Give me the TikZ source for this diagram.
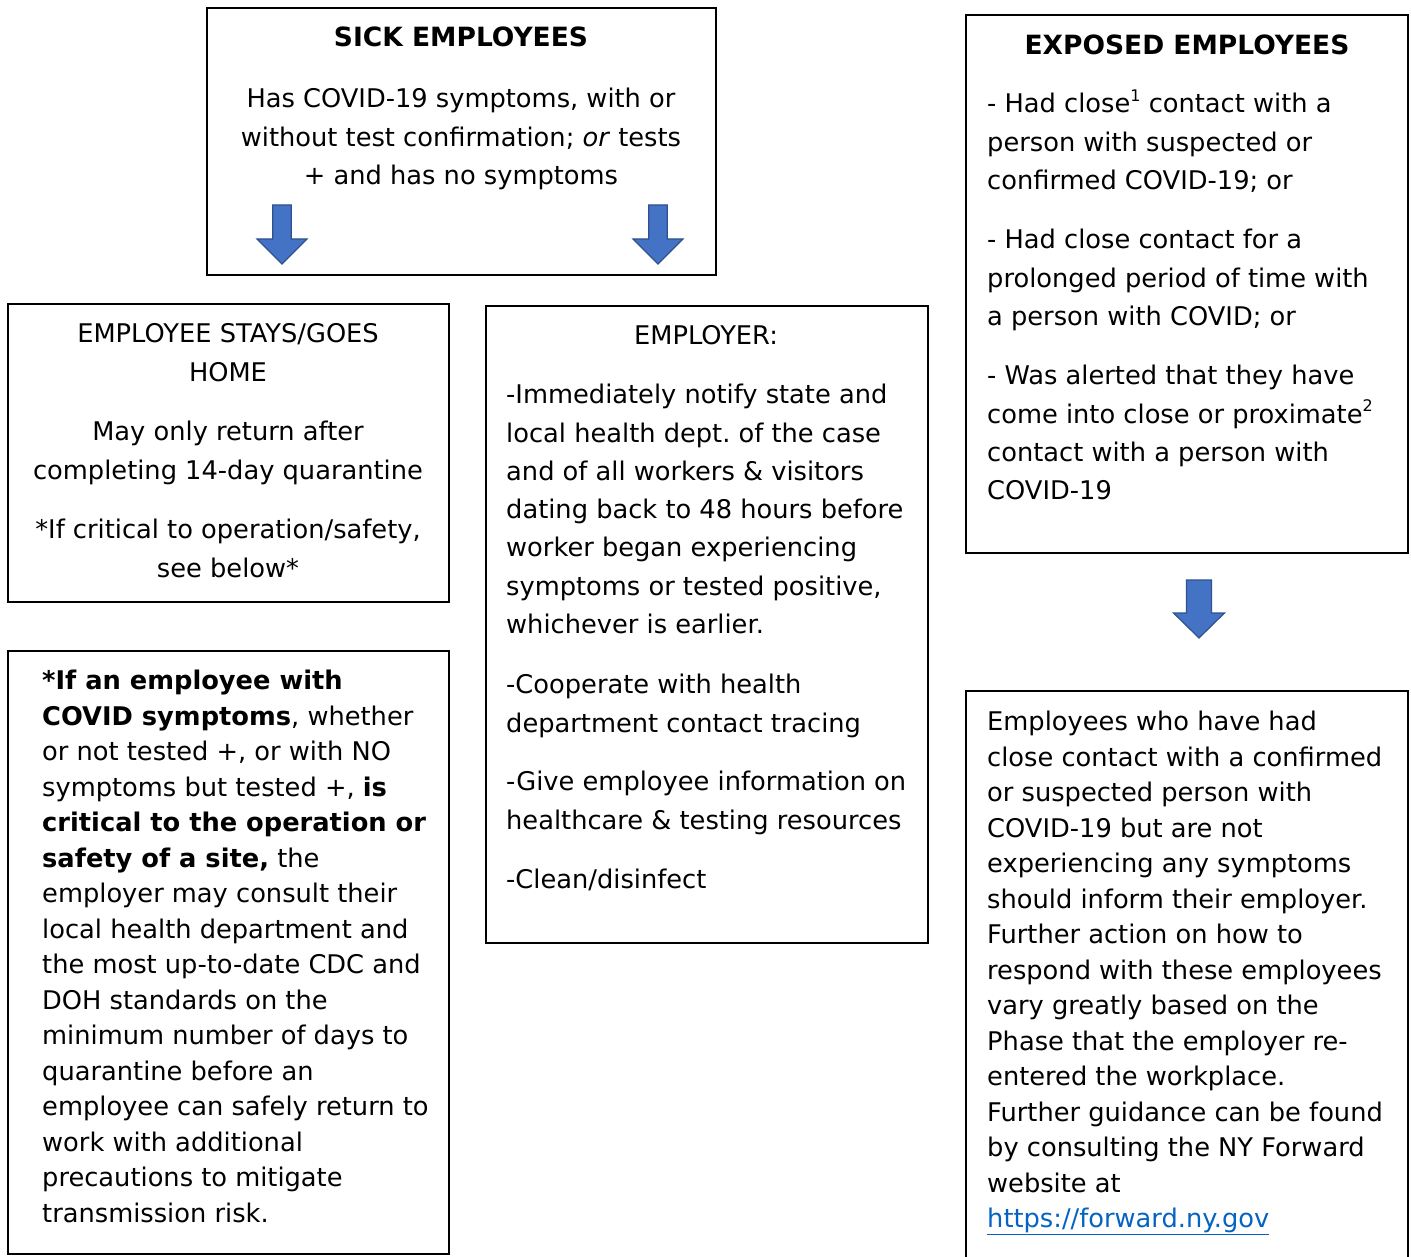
\documentclass[tikz,border=0pt]{standalone}
\usepackage{fontspec}
\setmainfont{DejaVu Sans}
\usepackage{xcolor}
\usepackage{tikz}
\usetikzlibrary{positioning}
\definecolor{arrowblue}{HTML}{4472C4}
\definecolor{arrowedge}{HTML}{2F528F}
\definecolor{linkblue}{HTML}{0563C1}
\frenchspacing
\newcommand{\supnum}[1]{\raisebox{0.8ex}{\fontsize{16}{16}\selectfont #1}}
\tikzset{
    % frame round each block of text
    box/.style={draw, line width=1.5pt, inner sep=0pt},
    % text set inside a frame
    wide/.style={inner sep=0pt, font=\fontsize{25.7}{38.3}\selectfont},
    dense/.style={inner sep=0pt, font=\fontsize{25.7}{35.5}\selectfont},
    % blue block arrow
    blockarrow/.style={fill=arrowblue, draw=arrowedge, line width=1.2pt, line join=miter}
}
\begin{document}
\begin{tikzpicture}[x=1pt, y=-1pt]
            \path[use as bounding box, clip] (0,0) rectangle (1411,1257);
            \begin{scope}
                \node[box, minimum width=509, minimum height=267] (sick)     at (461.5,141.5) {};
                \node[box, minimum width=441, minimum height=298] (stays)    at (228.5,453)   {};
                \node[box, minimum width=442, minimum height=637] (employer) at (707,624.5)   {};
                \node[box, minimum width=441, minimum height=603] (critical) at (228.5,952.5) {};
                \node[box, minimum width=442, minimum height=538] (exposed)  at (1187,284)    {};
                \node[box, minimum width=442, minimum height=579] (advice)   at (1187,980.5)  {};
            \end{scope}
            \foreach \x/\t/\m/\b/\s/\h in {282/205/239/264/9.3/25, 658/205/239/264/9.3/25, 1199/580/613/638/12.5/25.5} {
                \draw[blockarrow] (\x-\s,\t) -- (\x+\s,\t) -- (\x+\s,\m) -- (\x+\h,\m)
                    -- (\x,\b) -- (\x-\h,\m) -- (\x-\s,\m) -- cycle;
            }
            % sick employees
            \node[wide, anchor=north, font=\fontsize{26.5}{38.3}\selectfont\bfseries] (sicktitle) at (461,19.7) {\strut SICK EMPLOYEES};
            \node[wide, anchor=north, align=center] (sicktext) at (461,80.7)
                {\strut Has COVID-19 symptoms, with or\\without test confirmation; \textit{or} tests\\+ and has no symptoms};
            % employee stays home
            \node[wide, anchor=north, align=center] (staystitle) at (228,315.7) {\strut EMPLOYEE STAYS/GOES\\HOME};
            \node[wide, anchor=north, align=center] (staysreturn) at (228,413.7) {\strut May only return after\\completing 14-day quarantine};
            \node[wide, anchor=north, align=center] (stayscritical) at (228,511.7) {\strut *If critical to operation/safety,\\see below*};
            % employer
            \node[wide, anchor=north] (employertitle) at (706,317.7) {\strut EMPLOYER:};
            \node[wide, anchor=north west, align=left] (notify) at (506,376.7)
                {\strut -Immediately notify state and\\local health dept. of the case\\and of all workers \& visitors\\dating back to 48 hours before\\worker began experiencing\\symptoms or tested positive,\\whichever is earlier.};
            \node[wide, anchor=north west, align=left] (tracing) at (506,666.7) {\strut -Cooperate with health\\department contact tracing};
            \node[wide, anchor=north west, align=left] (resources) at (506,763.7) {\strut -Give employee information on\\healthcare \& testing resources};
            \node[wide, anchor=north west, align=left] (clean) at (506,861.7) {\strut -Clean/disinfect};
            % critical employees
            \node[dense, anchor=north west, align=left] (criticaltext) at (42,664.65)
                {\strut\textbf{*If an employee with}\\\textbf{COVID symptoms}, whether\\or not tested +, or with NO\\symptoms but tested +, \textbf{is}\\\textbf{critical to the operation or}\\\textbf{safety of a site,} the\\employer may consult their\\local health department and\\the most up-to-date CDC and\\DOH standards on the\\minimum number of days to\\quarantine before an\\employee can safely return to\\work with additional\\precautions to mitigate\\transmission risk.};
            % exposed employees
            \node[wide, anchor=north, font=\fontsize{26.5}{38.3}\selectfont\bfseries] (exposedtitle) at (1187,27.7) {\strut EXPOSED EMPLOYEES};
            \node[wide, anchor=north west, align=left] (closecontact) at (987,85.7)
                {\strut - Had close\supnum{1} contact with a\\person with suspected or\\confirmed COVID-19; or};
            \node[wide, anchor=north west, align=left] (prolonged) at (987,221.7)
                {\strut - Had close contact for a\\prolonged period of time with\\a person with COVID; or};
            \node[wide, anchor=north west, align=left] (alerted) at (987,357.7)
                {\strut - Was alerted that they have\\come into close or proximate\supnum{2}\\contact with a person with\\COVID-19};
            \node[dense, anchor=north west, align=left] (advicetext) at (987,705.65)
                {\strut Employees who have had\\close contact with a confirmed\\or suspected person with\\COVID-19 but are not\\experiencing any symptoms\\should inform their employer.\\Further action on how to\\respond with these employees\\vary greatly based on the\\Phase that the employer re-\\entered the workplace.\\Further guidance can be found\\by consulting the NY Forward\\website at\\\textcolor{linkblue}{\underline{https://forward.ny.gov}}};
        \end{tikzpicture}
\end{document}
